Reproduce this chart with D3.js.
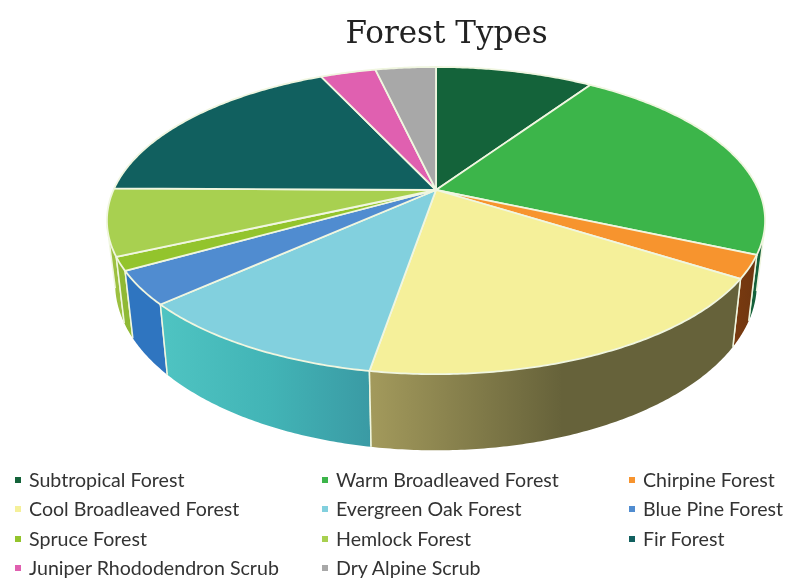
<!DOCTYPE html>
<html><head><meta charset="utf-8">
<script src="https://cdn.jsdelivr.net/npm/d3@7/dist/d3.min.js"></script>
<style>html,body{margin:0;padding:0;background:#fff}svg{display:block;filter:blur(0.5px)}</style>
</head><body><svg id="c" width="787" height="580"></svg>
<script>
const categories=["Subtropical Forest","Warm Broadleaved Forest","Chirpine Forest","Cool Broadleaved Forest","Evergreen Oak Forest","Blue Pine Forest","Spruce Forest","Hemlock Forest","Fir Forest","Juniper Rhododendron Scrub","Dry Alpine Scrub"];
const values=[9.4,22.2,2.4,18.6,10.6,3.5,1.4,7,17.9,3.3,3.6];
const colors=["#14633a","#3cb54a","#f7942e","#f5f09a","#82d0de","#508cd0","#93c42c","#a8d050","#11605f","#e060b0","#a8a8a8"];
const wallFrom=["#0f4a2a","#14603a","#7a3a10","#a39a5c","#4fc4c2","#2f75c0","#8fb935","#9cc040","#0c4a4a","#a04080","#808080"];
const wallMid=["#0f4a2a","#14603a","#743810","#66623a","#42b4b6","#2f75c0","#8fb935","#9cc040","#0c4a4a","#a04080","#808080"];
const wallTo=["#0f4a2a","#14603a","#6e3510","#66623a","#3a9aa4","#2f75c0","#8fb935","#9cc040","#0c4a4a","#a04080","#808080"];
const titleText="Forest Types";

const cx=436,cy=190,k=0.199,A=322.5,B=147.5,shrink=0.975,ys=1.085,yo=60.5;
const svg=d3.select("#c");
const pie=d3.pie().sort(null).value(d=>d).startAngle(0).endAngle(2*Math.PI);
const arcs=pie(values);
const rimTop=t=>{const X=Math.sin(t),Y=Math.cos(t),w=1+k*Y;return [cx+A*X/w,cy-B*Y/w];};
const rimBot=t=>{const p=rimTop(t);return [cx+(p[0]-cx)*shrink,cy+(p[1]-cy)*ys+yo];};
const line=d3.line();
const samples=(a,b)=>{const n=Math.max(2,Math.ceil((b-a)/0.01));return d3.range(n+1).map(i=>a+(b-a)*i/n);};
const defs=svg.append("defs");
const visA=104*Math.PI/180,visB=257*Math.PI/180;
const edge="#f0f6e0";

const walls=arcs.map((d,i)=>({i,a:Math.max(d.startAngle,visA),b:Math.min(d.endAngle,visB)})).filter(d=>d.b>d.a);
walls.sort((p,q)=>Math.abs((q.a+q.b)/2-Math.PI)-Math.abs((p.a+p.b)/2-Math.PI));
walls.forEach(w=>{
  const ts=samples(w.a,w.b);
  const pts=ts.map(rimTop).concat(ts.slice().reverse().map(rimBot));
  const xs=d3.extent(pts,p=>p[0]);
  const id="g"+w.i;
  const g=defs.append("linearGradient").attr("id",id).attr("gradientUnits","userSpaceOnUse")
    .attr("x1",xs[0]).attr("x2",xs[1]).attr("y1",0).attr("y2",0);
  g.append("stop").attr("offset",0).attr("stop-color",wallFrom[w.i]);
  g.append("stop").attr("offset",0.52).attr("stop-color",wallMid[w.i]);
  g.append("stop").attr("offset",1).attr("stop-color",wallTo[w.i]);
  svg.append("path").attr("d",line(pts)+"Z").attr("fill",`url(#${id})`);
  // separators only, so the lower rim stays clean
  [w.a,w.b].forEach(t=>{
    svg.append("path").attr("d",line([rimTop(t),rimBot(t)])).attr("fill","none")
      .attr("stroke",edge).attr("stroke-width",1.5);
  });
});
arcs.forEach((d,i)=>{
  const pts=[[cx,cy]].concat(samples(d.startAngle,d.endAngle).map(rimTop));
  svg.append("path").attr("d",line(pts)+"Z").attr("fill",colors[i])
    .attr("stroke",edge).attr("stroke-width",1.8).attr("stroke-linejoin","round");
});
svg.append("text").attr("x",446.5).attr("y",43).attr("text-anchor","middle")
  .attr("font-family","'DejaVu Serif',serif").attr("font-size",31).attr("fill","#222").text(titleText);
const colX=d3.scaleOrdinal().domain([0,1,2]).range([18,325,632]);
const rowY=d3.scaleOrdinal().domain([0,1,2,3]).range([480,509,539,568]);
categories.forEach((c,i)=>{
  const col=i%3,row=Math.floor(i/3);
  svg.append("rect").attr("x",colX(col)-3).attr("y",rowY(row)-3).attr("width",6).attr("height",6).attr("fill",colors[i]);
  svg.append("text").attr("x",colX(col)+11).attr("y",rowY(row)+6.5)
    .attr("font-family","Lato,'Open Sans',sans-serif").attr("font-size",19.6).attr("fill","#333").text(c);
});
</script></body></html>
